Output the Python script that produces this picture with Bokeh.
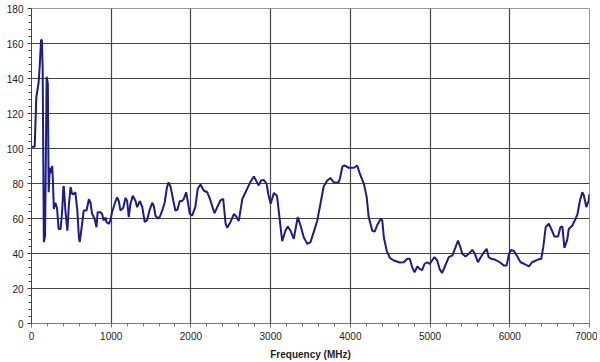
from bokeh.plotting import figure
from bokeh.models import SingleIntervalTicker, Range1d
from bokeh.embed import file_html
from bokeh.resources import INLINE

freq_mhz = [0, 40, 60, 90, 105, 120, 130, 140, 155, 170, 190, 205, 215, 230, 245, 260, 270, 280, 300, 320,
            340, 365, 385, 400, 405, 425, 450, 470, 490, 510, 530, 550, 575, 595, 605, 635, 655, 690, 720, 740,
            760, 790, 815, 830, 865, 885, 905, 930, 940, 970, 990, 1010, 1055, 1075, 1095, 1115, 1150, 1180, 1200, 1220,
            1240, 1270, 1305, 1325, 1360, 1390, 1420, 1450, 1480, 1515, 1535, 1555, 1585, 1610, 1640, 1670, 1700, 1720, 1745, 1780,
            1805, 1830, 1860, 1890, 1910, 1940, 1960, 1985, 2015, 2055, 2085, 2120, 2160, 2205, 2245, 2295, 2330, 2370, 2405, 2435,
            2455, 2495, 2540, 2570, 2600, 2645, 2685, 2745, 2790, 2825, 2850, 2880, 2915, 2950, 2970, 3000, 3040, 3080, 3115, 3145,
            3185, 3215, 3250, 3290, 3340, 3375, 3415, 3460, 3500, 3540, 3585, 3625, 3665, 3710, 3750, 3790, 3850, 3870, 3900, 3925,
            3980, 4045, 4085, 4120, 4170, 4205, 4230, 4275, 4305, 4335, 4380, 4400, 4420, 4455, 4495, 4545, 4620, 4670, 4715, 4745,
            4775, 4805, 4840, 4870, 4900, 4930, 4965, 4995, 5025, 5055, 5090, 5120, 5150, 5180, 5235, 5280, 5320, 5350, 5380, 5405,
            5445, 5485, 5530, 5560, 5600, 5635, 5675, 5710, 5735, 5765, 5820, 5875, 5925, 5960, 5990, 6020, 6050, 6095, 6135, 6185,
            6240, 6280, 6345, 6395, 6420, 6450, 6490, 6530, 6560, 6605, 6635, 6660, 6685, 6720, 6740, 6785, 6825, 6850, 6880, 6910,
            6930, 6960, 6990, 7000]

level = [101, 101, 129, 138, 148.6, 162, 162, 146, 46.5, 50, 141, 137, 75, 89, 86, 90, 80, 65.5, 69, 66,
         54, 54, 64.6, 78, 78.5, 64.6, 53, 68.4, 78, 74, 74, 75, 64.6, 49, 46.5, 57, 64.6, 64.6, 71, 69,
         62.7, 60, 55, 63.6, 63.6, 62.7, 58.9, 60.6, 57.9, 57, 59, 63.6, 70, 72, 70, 64.6, 66, 71.8, 70, 60.8,
         68, 73, 70, 66.5, 70, 66.5, 58, 59, 64.6, 69, 67, 61.7, 60, 61, 64.6, 69, 78, 80.7, 78, 70,
         64.6, 65, 70, 70, 71.2, 75, 70, 62.7, 61.7, 66.5, 77, 79.4, 76, 75, 70.3, 63, 66.5, 70.3, 71.2, 57,
         54.7, 57.9, 62.7, 61, 58.5, 71.2, 75, 80.8, 84, 81, 78.9, 81.7, 82, 79.8, 74, 68.4, 74.5, 73, 58.9, 47,
         53, 55.4, 53, 48.4, 60.8, 56, 49.3, 45.5, 46.5, 52.2, 58.9, 68.4, 78.3, 81.7, 83.2, 80.7, 80.4, 83, 89.7, 90.3,
         89, 89, 90.3, 85.5, 79.8, 72.2, 60.8, 53, 52.5, 56, 59.8, 59, 49.3, 41.7, 37.5, 36, 34.9, 35, 37, 37,
         32.2, 29.3, 32.6, 31.2, 30.5, 34, 35, 34, 36, 37.9, 36, 31.2, 28.8, 32, 37.9, 38.9, 43.6, 47.4, 43.6, 39.8,
         38.3, 39.8, 42.1, 40, 35, 37.9, 40.7, 42.7, 37.9, 37, 36.4, 35, 33.1, 33.1, 39.8, 42.1, 41.5, 38.3, 35, 34,
         32.6, 35, 36.4, 37, 43.6, 55, 57, 53, 49.7, 49.7, 55, 55.5, 43.2, 47.8, 54, 56, 59.8, 62.7, 70.3, 75,
         73, 66.5, 70.3, 74]

x_label = "Frequency (MHz)"
FONT = "Liberation Sans"

p = figure(frame_width=558, frame_height=315, output_backend="svg", toolbar_location=None,
           x_range=Range1d(0, 7000), y_range=Range1d(0, 180),
           min_border_left=31, min_border_right=8, min_border_top=8, min_border_bottom=30)

p.line(freq_mhz, level, line_color="#1c1c8e", line_width=2)

p.xaxis.ticker = SingleIntervalTicker(interval=1000, num_minor_ticks=5)
p.yaxis.ticker = SingleIntervalTicker(interval=20, num_minor_ticks=5)

for ax in (p.xaxis[0], p.yaxis[0]):
    ax.major_label_text_font = FONT
    ax.major_label_text_font_size = "10px"
    ax.major_label_text_color = "#222222"
    ax.major_tick_in = 0
    ax.major_tick_out = 4
    ax.minor_tick_in = 0
    ax.minor_tick_out = 3
    ax.major_label_standoff = 4

p.yaxis.axis_line_color = "#444444"
p.yaxis.major_tick_line_color = "#444444"
p.yaxis.minor_tick_line_color = "#444444"
p.xaxis.axis_line_color = "#777777"
p.xaxis.major_tick_line_color = "#777777"
p.xaxis.minor_tick_line_color = "#777777"

p.xaxis.axis_label = x_label
p.xaxis.axis_label_text_font = FONT
p.xaxis.axis_label_text_font_size = "10px"
p.xaxis.axis_label_text_font_style = "bold"
p.xaxis.axis_label_text_color = "#222222"
p.xaxis.axis_label_standoff = 6

p.xgrid.grid_line_color = "#444444"
p.ygrid.grid_line_color = "#444444"
p.xgrid.grid_line_width = 1.2
p.ygrid.grid_line_width = 1.2

p.outline_line_color = "#999999"
p.background_fill_color = "white"
p.border_fill_color = "white"

open("out.html", "w").write(file_html(p, INLINE))
